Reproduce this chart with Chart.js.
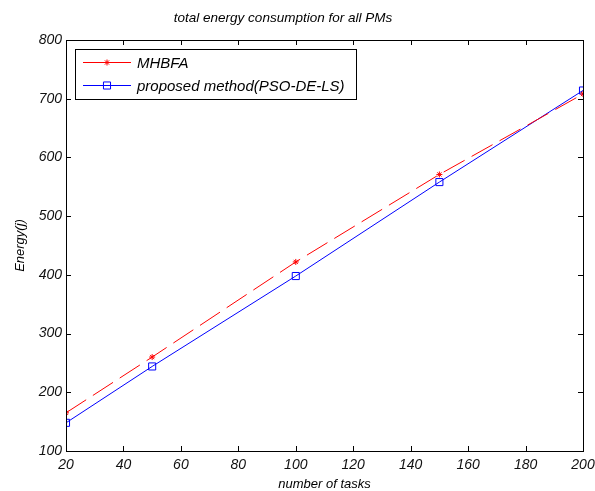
<!DOCTYPE html>
<html>
<head>
<meta charset="utf-8">
<script src="https://cdn.jsdelivr.net/npm/chart.js@4.4.1/dist/chart.umd.min.js"></script>
<style>
  html, body { margin: 0; padding: 0; background: #fff; }
  #wrap { width: 595px; height: 491px; }
</style>
</head>
<body>
<div id="wrap"><canvas id="grafico" width="595" height="491"></canvas></div>
<script>
// dados
const tarefas = [20, 50, 100, 150, 200];
const mhbfa = [165, 260, 422, 571, 708];
const proposto = [148, 244, 398, 558, 714];
const rotulos = ['MHBFA', 'proposed method(PSO-DE-LS)'];
const titulo = 'total energy consumption for all PMs';

const FONTE = '"Liberation Sans", Arial, sans-serif';

// caixa em volta da area + ticks para dentro (estilo matlab)
const caixaMatlab = {
    id: 'caixaMatlab',
    afterDatasetsDraw(chart) {
        const { ctx, chartArea: a, scales } = chart;
        const tam = 5;
        ctx.save();
        ctx.strokeStyle = '#000';
        ctx.lineWidth = 1;
        ctx.beginPath();
        scales.x.ticks.forEach(t => {
            const px = Math.round(scales.x.getPixelForValue(t.value)) + 0.5;
            ctx.moveTo(px, a.bottom); ctx.lineTo(px, a.bottom - tam);
            ctx.moveTo(px, a.top); ctx.lineTo(px, a.top + tam);
        });
        scales.y.ticks.forEach(t => {
            const py = Math.round(scales.y.getPixelForValue(t.value)) + 0.5;
            ctx.moveTo(a.left, py); ctx.lineTo(a.left + tam, py);
            ctx.moveTo(a.right, py); ctx.lineTo(a.right - tam, py);
        });
        ctx.stroke();
        ctx.strokeRect(Math.round(a.left) + 0.5, Math.round(a.top) + 0.5,
            Math.round(a.right - a.left), Math.round(a.bottom - a.top));
        ctx.restore();
    },
    afterDraw(chart) {
        const { ctx } = chart;
        ctx.save();
        // titulo (um pouco deslocado para a esquerda como no original)
        ctx.fillStyle = '#000';
        ctx.font = 'italic 13.5px ' + FONTE;
        ctx.textAlign = 'center';
        ctx.textBaseline = 'middle';
        ctx.fillText(titulo, 283, 18);

        // legenda com caixa
        const x0 = 75, y0 = 49, w = 281, h = 50;
        ctx.fillStyle = '#fff';
        ctx.fillRect(x0, y0, w, h);
        ctx.strokeStyle = '#000';
        ctx.lineWidth = 1;
        ctx.strokeRect(x0 + 0.5, y0 + 0.5, w, h);
        ctx.textAlign = 'left';
        chart.data.datasets.forEach((ds, i) => {
            const y = y0 + 13.5 + i * 23;
            ctx.strokeStyle = ds.borderColor;
            ctx.lineWidth = 1;
            ctx.beginPath();
            ctx.moveTo(83, y); ctx.lineTo(131, y);
            ctx.stroke();
            ctx.fillStyle = 'rgba(0,0,0,0)';
            Chart.helpers.drawPoint(ctx, {
                pointStyle: ds.pointStyle,
                radius: ds.pointRadius,
                borderWidth: 1
            }, 107, y);
            ctx.fillStyle = '#000';
            ctx.font = 'italic 15px ' + FONTE;
            ctx.fillText(ds.label, 137, y + 1);
        });
        ctx.restore();
    }
};

const ctx = document.getElementById('grafico').getContext('2d');
new Chart(ctx, {
    type: 'line',
    data: {
        datasets: [{
            label: rotulos[0],
            data: tarefas.map((t, i) => ({ x: t, y: mhbfa[i] })),
            borderColor: '#ff0000',
            backgroundColor: '#ff0000',
            borderWidth: 1,
            borderDash: [24, 8],
            pointStyle: 'star',
            pointRadius: 3,
            pointBorderColor: '#ff0000',
            pointBorderWidth: 1,
            tension: 0
        }, {
            label: rotulos[1],
            data: tarefas.map((t, i) => ({ x: t, y: proposto[i] })),
            borderColor: '#0000ff',
            backgroundColor: 'rgba(0,0,0,0)',
            borderWidth: 1,
            pointStyle: 'rect',
            pointRadius: 5,
            pointBorderColor: '#0000ff',
            pointBackgroundColor: 'rgba(0,0,0,0)',
            pointBorderWidth: 1,
            tension: 0
        }]
    },
    options: {
        responsive: false,
        animation: false,
        layout: { padding: { top: 40, right: 0, left: 0, bottom: 0 } },
        plugins: {
            legend: { display: false },
            tooltip: { enabled: false },
            title: { display: false }
        },
        scales: {
            x: {
                type: 'linear',
                min: 20, max: 200,
                grid: { display: false, drawTicks: false },
                border: { display: false },
                ticks: {
                    stepSize: 20,
                    padding: 6,
                    color: '#111',
                    maxRotation: 0,
                    font: { family: FONTE, size: 14, style: 'italic' }
                },
                title: {
                    display: true,
                    text: 'number of tasks',
                    color: '#000',
                    font: { family: FONTE, size: 13, style: 'italic', lineHeight: 1 },
                    padding: { top: 0, bottom: 0 }
                },
                afterFit(s) { s.height = 40; s.paddingRight = 12; }
            },
            y: {
                min: 100, max: 800,
                grid: { display: false, drawTicks: false },
                border: { display: false },
                ticks: {
                    stepSize: 100,
                    padding: 4,
                    color: '#111',
                    font: { family: FONTE, size: 14, style: 'italic' }
                },
                title: {
                    display: true,
                    text: 'Energy(j)',
                    color: '#000',
                    font: { family: FONTE, size: 13, style: 'italic', lineHeight: 1.2 },
                    padding: { top: 13, bottom: 0 }
                },
                afterFit(s) { s.width = 66; }
            }
        }
    },
    plugins: [caixaMatlab]
});
</script>
</body>
</html>
